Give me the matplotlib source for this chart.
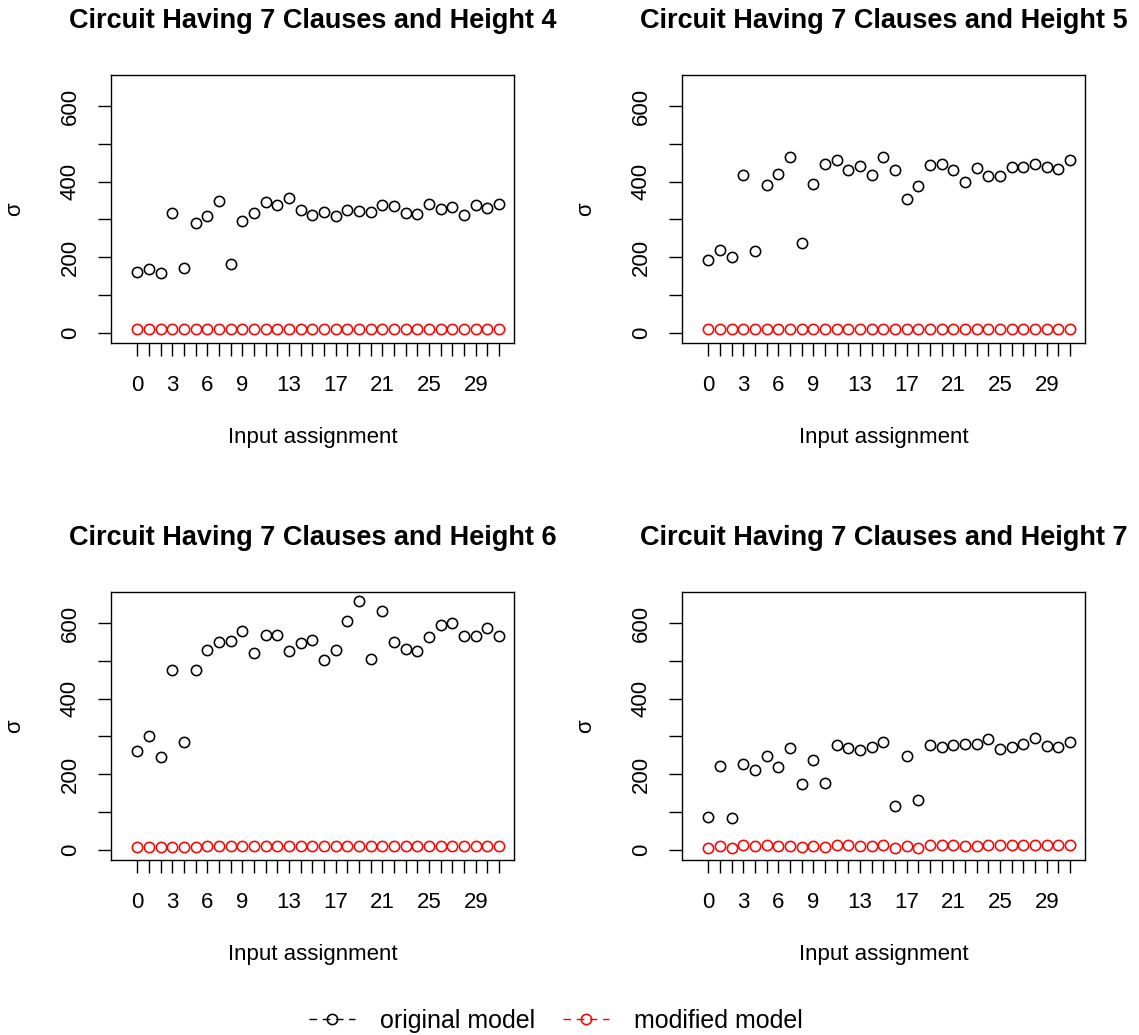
import matplotlib
matplotlib.use("Agg")
import matplotlib.pyplot as plt
from matplotlib.lines import Line2D
import numpy as np

plt.rcParams['font.family'] = ['Liberation Sans', 'DejaVu Sans']

x = list(range(32))

titles = ["Circuit Having 7 Clauses and Height 4",
          "Circuit Having 7 Clauses and Height 5",
          "Circuit Having 7 Clauses and Height 6",
          "Circuit Having 7 Clauses and Height 7"]

orig_h4 = [161, 169, 157, 316, 171, 290, 309, 349, 182, 297, 316, 346, 337, 356,
           324, 312, 320, 310, 325, 323, 320, 337, 335, 317, 315, 341, 328, 334,
           313, 337, 331, 340]
mod_h4 = [9, 9, 9, 10, 9, 9, 10, 9, 9, 10, 10, 9, 9, 9, 9, 9, 9, 10, 10, 9, 9,
          9, 9, 9, 9, 9, 9, 9, 9, 9, 9, 9]

orig_h5 = [192, 218, 200, 419, 216, 391, 421, 465, 238, 394, 448, 457, 431, 441,
           417, 465, 432, 355, 388, 443, 447, 431, 399, 435, 416, 416, 440, 440,
           447, 440, 433, 458]
mod_h5 = [9] * 32

orig_h6 = [262, 301, 246, 476, 286, 476, 529, 549, 554, 580, 520, 568, 568, 527,
           547, 556, 503, 528, 605, 658, 504, 633, 549, 531, 527, 564, 595, 601,
           565, 565, 586, 566]
mod_h6 = [7, 7, 7, 7, 7, 8, 11, 11, 11, 11, 11, 11, 11, 11, 11, 11, 11, 11, 11,
          11, 11, 11, 11, 11, 11, 11, 11, 11, 11, 11, 11, 11]

orig_h7 = [87, 221, 84, 227, 212, 247, 218, 269, 174, 239, 176, 277, 270, 265,
           272, 285, 117, 249, 133, 278, 273, 277, 279, 281, 292, 268, 272, 279,
           296, 275, 273, 286]
mod_h7 = [6, 11, 5, 12, 10, 12, 10, 11, 7, 11, 7, 12, 12, 11, 11, 12, 6, 10, 5,
          12, 12, 12, 11, 11, 12, 12, 12, 12, 12, 12, 12, 12]

orig_series = [orig_h4, orig_h5, orig_h6, orig_h7]
mod_series = [mod_h4, mod_h5, mod_h6, mod_h7]

xtick_shown = [0, 3, 6, 9, 13, 17, 21, 25, 29]
yticks = [0, 100, 200, 300, 400, 500, 600]
ytick_shown = [0, 200, 400, 600]

W, H = 1139, 1035
fig = plt.figure(figsize=(W / 100, H / 100), dpi=100)

lefts = [110.7, 681.7, 110.7, 681.7]
tops = [74.7, 74.7, 591.7, 591.7]
aw, ah = 403.3, 268.0

FS = 16
for i in range(4):
    ax = fig.add_axes([lefts[i] / W, (H - tops[i] - ah) / H, aw / W, ah / H])
    ax.plot(x, orig_series[i], linestyle='none', marker='o', markersize=7.4,
            markerfacecolor='none', markeredgecolor='black', markeredgewidth=1.15)
    ax.plot(x, mod_series[i], linestyle='none', marker='o', markersize=7.4,
            markerfacecolor='none', markeredgecolor='red', markeredgewidth=1.15)
    ax.set_xlim(-2.28, 32.28)
    ax.set_ylim(-26.3, 683.3)
    ax.set_xticks(x)
    ax.set_xticklabels([str(v) if v in xtick_shown else '' for v in x], fontsize=FS)
    ax.set_yticks(yticks)
    ax.set_yticklabels([str(v) if v in ytick_shown else '' for v in yticks],
                       fontsize=FS, rotation=90, va='center')
    ax.tick_params(axis='x', direction='out', length=9.6, width=1.0, pad=14.0)
    ax.tick_params(axis='y', direction='out', length=9.4, width=1.0, pad=12.0)
    for sp in ax.spines.values():
        sp.set_linewidth(1.0)
    ax.set_title(titles[i], fontsize=19.5, fontweight='bold', pad=33.5)
    ax.set_xlabel('Input assignment', fontsize=FS)
    ax.xaxis.set_label_coords(0.5, -0.316)
    ax.xaxis.label.set_va('top')
    ax.set_ylabel('σ', fontsize=FS)
    ax.yaxis.set_label_coords(-0.212, 0.5)

handles = [Line2D([0], [0], color='black', linestyle=(0, (5.5, 4)), linewidth=1.0,
                  marker='o', markersize=7.4, markerfacecolor='none',
                  markeredgecolor='black', markeredgewidth=1.15),
           Line2D([0], [0], color='red', linestyle=(0, (5.5, 4)), linewidth=1.0,
                  marker='o', markersize=7.4, markerfacecolor='none',
                  markeredgecolor='red', markeredgewidth=1.15)]
fig.legend(handles, ['original model', 'modified model'], loc='center',
           bbox_to_anchor=(555.5 / W, (H - 1021) / H), ncol=2, frameon=False,
           fontsize=18, handlelength=1.84, handletextpad=1.0, columnspacing=1.12)

fig.savefig('out.png', dpi=100)
